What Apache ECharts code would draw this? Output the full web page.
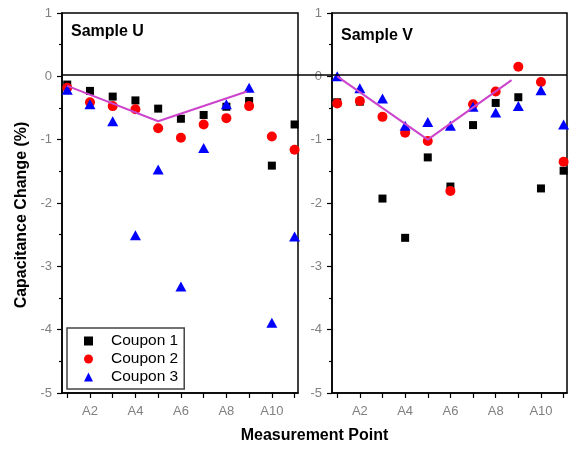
<!DOCTYPE html>
<html><head><meta charset="utf-8">
<script src="https://cdn.jsdelivr.net/npm/echarts@6/dist/echarts.min.js"></script>
<style>html,body{margin:0;padding:0;background:#fff}#c{width:576px;height:449px}</style>
</head><body><div id="c"></div>
<script>
// ---- data ----
const points = [1, 2, 3, 4, 5, 6, 7, 8, 9, 10, 11];
const xTickValues = [1, 2, 3, 4, 5, 6, 7, 8, 9, 10, 11];
const xLabelValues = [2, 4, 6, 8, 10];
const seriesNames = ['Coupon 1', 'Coupon 2', 'Coupon 3'];
const panelTitles = ['Sample U', 'Sample V'];

const uCoupon1 = [-0.13, -0.23, -0.32, -0.38, -0.51, -0.67, -0.61, -0.48, -0.39, -1.41, -0.76];
const uCoupon2 = [-0.18, -0.41, -0.47, -0.52, -0.82, -0.97, -0.76, -0.66, -0.47, -0.95, -1.16];
const uCoupon3 = [-0.21, -0.44, -0.71, -2.51, -1.47, -3.32, -1.13, -0.44, -0.18, -3.89, -2.53];

const vCoupon1 = [-0.41, -0.40, -1.93, -2.55, -1.28, -1.74, -0.77, -0.42, -0.33, -1.77, -1.49];
const vCoupon2 = [-0.43, -0.39, -0.64, -0.89, -1.02, -1.81, -0.44, -0.24, 0.15, -0.09, -1.35];
const vCoupon3 = [0.00, -0.19, -0.35, -0.78, -0.72, -0.78, -0.48, -0.57, -0.47, -0.22, -0.76];

const trendUx = [1, 5, 8.9];
const trendUy = [-0.15, -0.71, -0.24];
const trendVx = [1, 5, 8.7];
const trendVy = [0.0, -1.0, -0.06];

// ---- styling ----
const FONT = 'Liberation Sans, Arial, sans-serif';
const LABEL_COLOR = '#808080';
const symbols = ['rect', 'circle', 'triangle'];
const symbolSizes = [8, 10, [11, 10]];
const colors = ['#000000', '#ff0000', '#0000ff'];

function pairs(xs, ys) { return xs.map((x, i) => [x, ys[i]]); }

function xAxisFor(gridIndex) {
  return {
    type: 'value', gridIndex, min: 0.77, max: 11.15,
    axisLine: { show: true, onZero: false, lineStyle: { color: '#000', width: 1.5 } },
    axisTick: { show: true, length: 5, customValues: xTickValues, lineStyle: { color: '#000', width: 1.2 } },
    axisLabel: { show: true, customValues: xLabelValues, formatter: v => 'A' + v, color: LABEL_COLOR, fontFamily: FONT, fontSize: 13, margin: 12 },
    splitLine: { show: false }
  };
}
function yAxisFor(gridIndex, name) {
  return {
    type: 'value', gridIndex, min: -5, max: 1, interval: 1,
    name: name || '', nameLocation: 'middle', nameGap: 32, nameRotate: 90,
    nameTextStyle: { fontFamily: FONT, fontSize: 16, fontWeight: 'bold', color: '#000', padding: [0, 24, 0, 0] },
    axisLine: { show: true, onZero: false, lineStyle: { color: '#000', width: 1.5 } },
    axisTick: { show: true, length: 5, lineStyle: { color: '#000', width: 1.2 } },
    minorTick: { show: true, splitNumber: 2, length: 3, lineStyle: { color: '#000', width: 1.2 } },
    axisLabel: { color: LABEL_COLOR, fontFamily: FONT, fontSize: 13, margin: 10 },
    splitLine: { show: false }, minorSplitLine: { show: false }
  };
}

const panels = [
  [uCoupon1, uCoupon2, uCoupon3],
  [vCoupon1, vCoupon2, vCoupon3]
];
const trends = [[trendUx, trendUy], [trendVx, trendVy]];

const series = [];
panels.forEach((vals, g) => {
  vals.forEach((ys, k) => {
    series.push({
      type: 'scatter', name: seriesNames[k], xAxisIndex: g, yAxisIndex: g,
      symbol: symbols[k], symbolSize: symbolSizes[k],
      itemStyle: { color: colors[k], opacity: 1 },
      data: pairs(points, ys), z: 3
    });
  });
  series.push({
    type: 'line', name: 'trend' + g, xAxisIndex: g, yAxisIndex: g,
    data: pairs(trends[g][0], trends[g][1]), symbol: 'none',
    lineStyle: { color: '#cc44cc', width: 2 }, z: 4, silent: true
  });
});
// zero reference line spanning both panels
series.push({
  type: 'line', name: 'zero', xAxisIndex: 2, yAxisIndex: 2, data: [], silent: true,
  markLine: { silent: true, symbol: 'none', label: { show: false },
    lineStyle: { color: '#000', type: 'solid', width: 1.5 }, data: [{ yAxis: 0 }] }
});

const option = {
  animation: false,
  backgroundColor: '#fff',
  textStyle: { fontFamily: FONT },
  title: [
    { text: panelTitles[0], left: 66, top: 19, textStyle: { fontFamily: FONT, fontSize: 16, fontWeight: 'bold', color: '#000' } },
    { text: panelTitles[1], left: 336, top: 23, textStyle: { fontFamily: FONT, fontSize: 16, fontWeight: 'bold', color: '#000' } }
  ],
  legend: {
    data: seriesNames, orient: 'vertical', left: 67, top: 328,
    itemWidth: 9, itemHeight: 9, itemGap: 2,
    padding: [5, 6, 4, 17],
    borderColor: '#444', borderWidth: 1.5, backgroundColor: '#fff',
    textStyle: { fontFamily: FONT, fontSize: 15.5, color: '#000', padding: [0, 0, 0, 13] }
  },
  grid: [
    { left: 62, right: 278, top: 13, bottom: 56, show: true, borderColor: '#000', borderWidth: 1.5 },
    { left: 332, right: 9, top: 13, bottom: 56, show: true, borderColor: '#000', borderWidth: 1.5 },
    { left: 62, right: 9, top: 13, bottom: 56, show: false }
  ],
  xAxis: [
    xAxisFor(0), xAxisFor(1),
    { type: 'value', gridIndex: 2, min: 0, max: 1, name: 'Measurement Point', nameLocation: 'middle', nameGap: 47,
      nameTextStyle: { fontFamily: FONT, fontSize: 16, fontWeight: 'bold', color: '#000' },
      axisLine: { show: false, onZero: false }, axisTick: { show: false }, axisLabel: { show: false }, splitLine: { show: false } }
  ],
  yAxis: [
    yAxisFor(0, 'Capacitance Change (%)'), yAxisFor(1),
    { type: 'value', gridIndex: 2, min: -5, max: 1, axisLine: { show: false }, axisTick: { show: false }, axisLabel: { show: false }, splitLine: { show: false } }
  ],
  series
};
const chart = echarts.init(document.getElementById('c'), null, { renderer: 'canvas' });
chart.setOption(option);
</script>
</body></html>
